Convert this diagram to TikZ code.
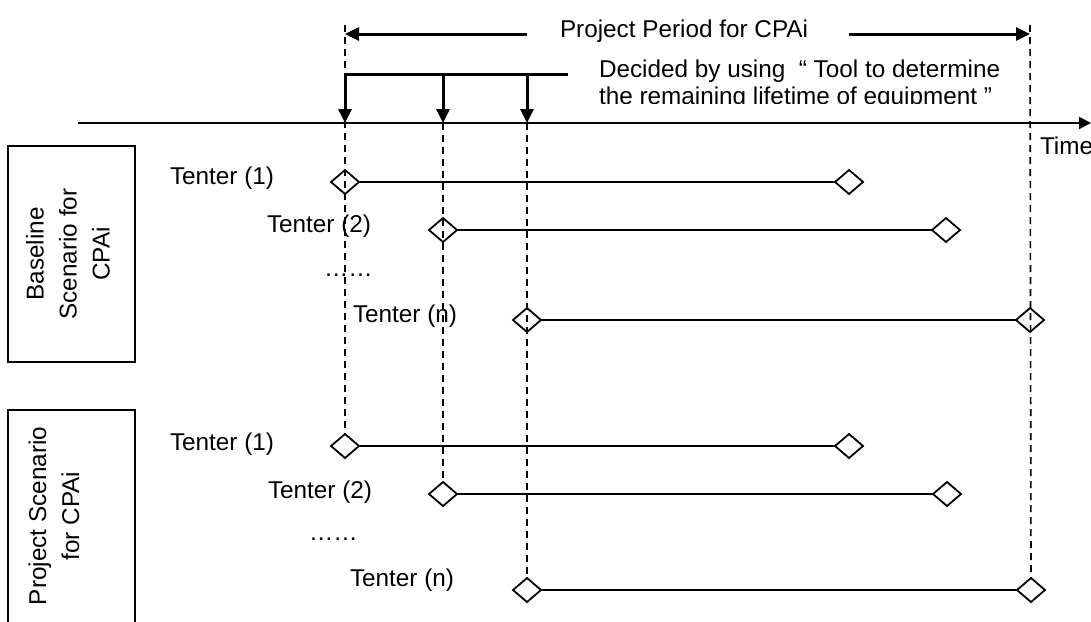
\documentclass[tikz,border=0pt]{standalone}
\usepackage{fontspec}
\setmainfont{Liberation Sans}
\usetikzlibrary{arrows.meta,shapes.geometric}
\begin{document}
\begin{tikzpicture}[x=1pt,y=-1pt,
  every node/.style={font=\fontsize{24.3}{33}\selectfont, inner sep=0pt, outer sep=0pt},
  lbl/.style={anchor=base west},
  thickarrow/.style={line width=3pt, -{Triangle[length=14pt,width=13pt]}},
  axisline/.style={line width=2pt, -{Triangle[length=12pt,width=12pt]}},
  guide/.style={line width=1.6pt, dash pattern=on 7pt off 5pt},
  dia/.style={draw, shape=diamond, line width=1.8pt, minimum width=28pt, minimum height=24pt, inner sep=0pt},
  diaw/.style={dia, fill=white},
  life/.style={line width=1.8pt},
  scenbox/.style={draw, line width=1.5pt, minimum width=127pt, inner sep=0pt}
]
\useasboundingbox (0,0) rectangle (1091,621);
\clip (0,0) rectangle (1091,621);

% coordinates
\coordinate (axL) at (78,123);
\coordinate (axR) at (1091,123);
\coordinate (ppL) at (345,34);
\coordinate (ppLs) at (527,34);
\coordinate (ppRs) at (849,34);
\coordinate (ppR) at (1030,34);
\coordinate (brL) at (345,74);
\coordinate (brR) at (568,74);
\coordinate (br2) at (443,74);
\coordinate (br3) at (527,74);
\coordinate (tk1) at (345,123);
\coordinate (tk2) at (443,123);
\coordinate (tk3) at (527,123);
\coordinate (g1top) at (345,25);
\coordinate (g4top) at (1030,25);

% scenario boxes
\node[scenbox, minimum height=216pt] (bbox) at (71.5,254) {};
\node[rotate=90, align=center] (btext) at (68,254) {Baseline\\Scenario for\\CPAi};
\node[scenbox, minimum height=232pt] (pbox) at (71.5,526) {};
\node[rotate=90, align=center] (ptext) at (54,516) {Project Scenario\\for CPAi};

% diamonds
\node[dia] (b1s) at (345,182) {};
\node[dia] (b1e) at (849,182) {};
\node[dia] (b2s) at (443,230) {};
\node[dia] (b2e) at (946,230) {};
\node[dia] (bns) at (527,320) {};
\node[dia] (bne) at (1030,320) {};
\node[diaw] (p1s) at (345,446) {};
\node[diaw] (p1e) at (849,446) {};
\node[diaw] (p2s) at (443,494) {};
\node[diaw] (p2e) at (947,494) {};
\node[diaw] (pns) at (527,590) {};
\node[diaw] (pne) at (1031,590) {};

% guide lines
\draw[guide] (g1top) -- (p1s.north);
\draw[guide] (tk2) -- (p2s.north);
\draw[guide] (tk3) -- (pns.north);
\draw[guide] (g4top) -- (pne.north);

% lifetimes
\draw[life] (b1s.east) -- (b1e.west);
\draw[life] (b2s.east) -- (b2e.west);
\draw[life] (bns.east) -- (bne.west);
\draw[life] (p1s.east) -- (p1e.west);
\draw[life] (p2s.east) -- (p2e.west);
\draw[life] (pns.east) -- (pne.west);

% time axis
\draw[axisline] (axL) -- (axR);
\node[lbl] (time) at (1040,154) {Time};

% project period
\draw[thickarrow] (ppLs) -- (ppL);
\draw[thickarrow] (ppRs) -- (ppR);
\node[lbl] (pp) at (560,37) {Project Period for CPAi};

% decided-by bracket
\draw[line width=3pt] (brL) -- (brR);
\draw[thickarrow] (brL) -- (tk1);
\draw[thickarrow] (br2) -- (tk2);
\draw[thickarrow] (br3) -- (tk3);
\node[lbl] (dec1) at (599,77) {Decided by using~~“ Tool to determine};
\begin{scope}
\clip (560,80) rectangle (1020,103);
\node[lbl] (dec2) at (599,104) {the remaining lifetime of equipment ”};
\end{scope}

% labels
\node[lbl] (bl1) at (170,184) {Tenter (1)};
\node[lbl] (bl2) at (267,232) {Tenter (2)};
\node[lbl] (bld) at (324,276) {……};
\node[lbl] (bln) at (353,322) {Tenter (n)};
\node[lbl] (pl1) at (170,450) {Tenter (1)};
\node[lbl] (pl2) at (268,498) {Tenter (2)};
\node[lbl] (pld) at (309,540) {……};
\node[lbl] (pln) at (350,586) {Tenter (n)};
\end{tikzpicture}
\end{document}
